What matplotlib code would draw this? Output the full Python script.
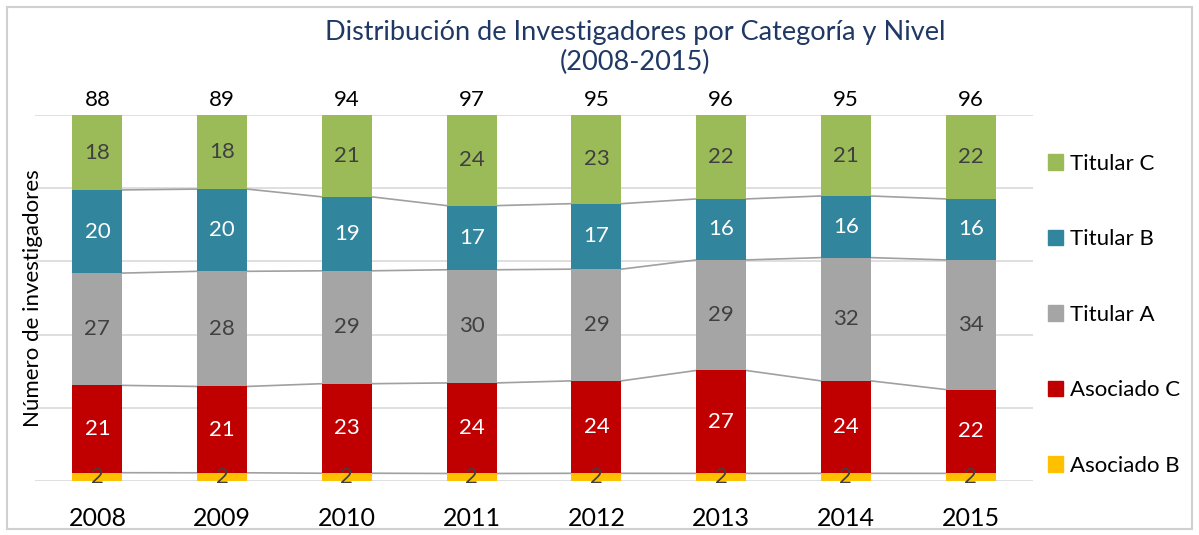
import matplotlib
matplotlib.use('Agg')
import matplotlib.pyplot as plt
import matplotlib.patches as mpatches
import numpy as np

plt.rcParams['font.family'] = ['Lato', 'DejaVu Sans']

years = ['2008', '2009', '2010', '2011', '2012', '2013', '2014', '2015']
asociado_b = [2, 2, 2, 2, 2, 2, 2, 2]
asociado_c = [21, 21, 23, 24, 24, 27, 24, 22]
titular_a = [27, 28, 29, 30, 29, 29, 32, 34]
titular_b = [20, 20, 19, 17, 17, 16, 16, 16]
titular_c = [18, 18, 21, 24, 23, 22, 21, 22]

series = [
    ('Asociado B', asociado_b, '#FFC000', '#404040'),
    ('Asociado C', asociado_c, '#C00000', 'white'),
    ('Titular A', titular_a, '#A5A5A5', '#404040'),
    ('Titular B', titular_b, '#31859C', 'white'),
    ('Titular C', titular_c, '#9BBB59', '#404040'),
]

totals = np.sum([s[1] for s in series], axis=0)
x = np.arange(len(years))
w = 0.4

fig = plt.figure(figsize=(11.99, 5.35), dpi=100)
ax = fig.add_axes([0.0292, 0.1009, 0.8324, 0.684])

# gridlines
for g in np.linspace(0, 1, 6):
    ax.axhline(g, color='#D9D9D9', lw=1.2, zorder=0)

bottom = np.zeros(len(years))
handles = []
for name, vals, col, tcol in series:
    frac = np.array(vals) / totals
    ax.bar(x, frac, w, bottom=bottom, color=col, zorder=2)
    for i, v in enumerate(vals):
        ax.text(x[i], bottom[i] + frac[i] / 2, str(v), ha='center', va='center',
                color=tcol, fontsize=16, zorder=4)
    bottom = bottom + frac
    # lineas de serie entre barras
    if name != 'Titular C':
        for i in range(len(years) - 1):
            ax.plot([x[i] + w / 2, x[i + 1] - w / 2], [bottom[i], bottom[i + 1]],
                    color='#A0A0A0', lw=1.2, zorder=1)
    handles.append(mpatches.Patch(color=col, label=name))

for i, t in enumerate(totals):
    ax.text(x[i], 1.015, str(t), ha='center', va='bottom', fontsize=16,
            color='black', clip_on=False)

ax.set_xlim(-0.5, len(years) - 0.5)
ax.set_ylim(0, 1)
ax.set_xticks(x)
ax.set_xticklabels(years, fontsize=18)
ax.set_yticks([])
ax.tick_params(axis='x', length=0, pad=19)
for s in ax.spines.values():
    s.set_visible(False)
ax.set_ylabel('Número de investigadores', fontsize=16, labelpad=-6)

leg = fig.legend(handles=handles[::-1], loc='upper left', bbox_to_anchor=(0.857, 0.75),
                 frameon=False, fontsize=16, handlelength=0.7, handleheight=0.7,
                 handletextpad=0.3, labelspacing=2.5)

fig.text(0.53, 0.911, 'Distribución de Investigadores por Categoría y Nivel\n(2008-2015)',
         ha='center', va='center', color='#1F3864', fontsize=19.5, linespacing=1.26)

fig.patches.append(mpatches.Rectangle((0.006, 0.012), 0.988, 0.975, transform=fig.transFigure,
                                      fill=False, edgecolor='#D0D0D0', lw=1.5))

fig.savefig('out.png', dpi=100)
